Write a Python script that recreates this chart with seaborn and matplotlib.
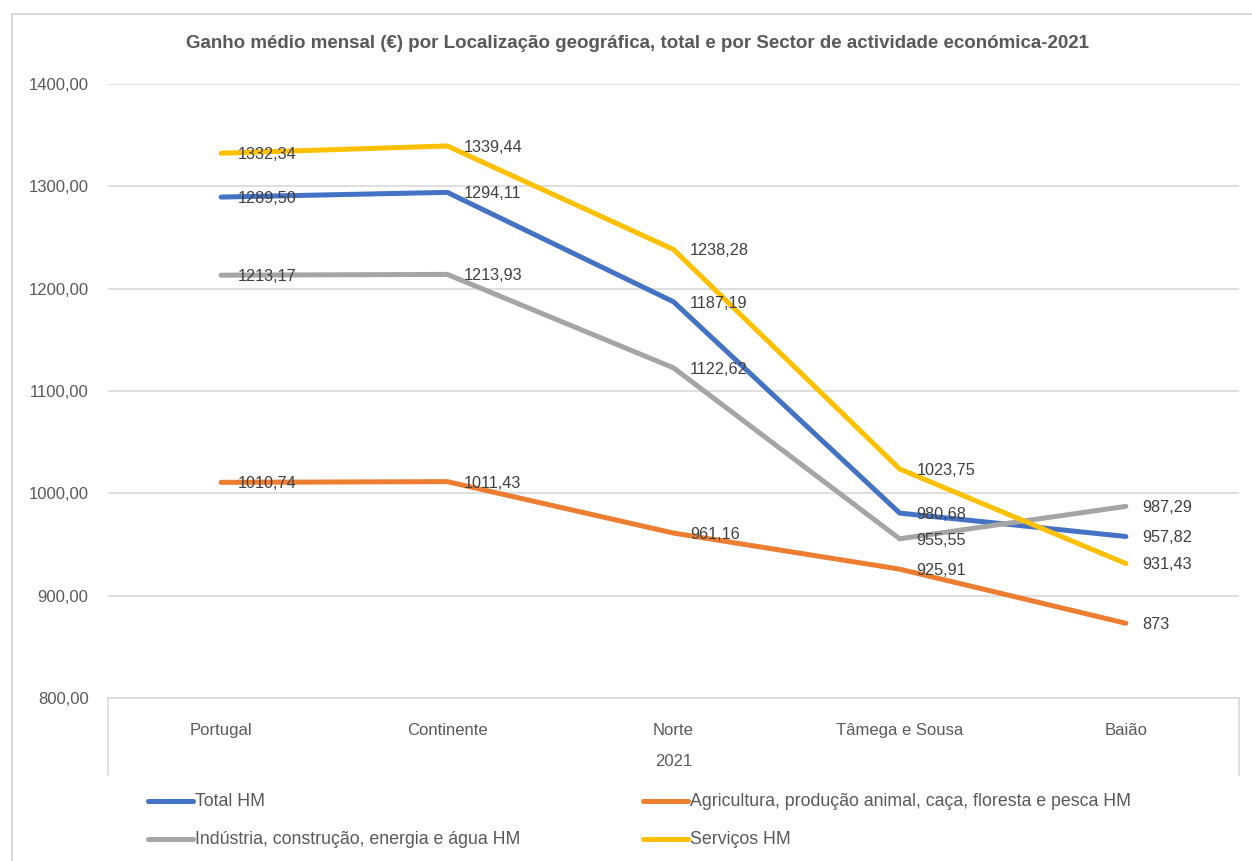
import matplotlib
matplotlib.use("Agg")
import matplotlib.pyplot as plt
import seaborn as sns
import pandas as pd
from matplotlib.lines import Line2D
from matplotlib.patches import Rectangle

categories = ["Portugal", "Continente", "Norte", "Tâmega e Sousa", "Baião"]
series_names = [
    "Total HM",
    "Agricultura, produção animal, caça, floresta e pesca HM",
    "Indústria, construção, energia e água HM",
    "Serviços HM",
]
total_hm = [1289.50, 1294.11, 1187.19, 980.68, 957.82]
agricultura_hm = [1010.74, 1011.43, 961.16, 925.91, 873.00]
industria_hm = [1213.17, 1213.93, 1122.62, 955.55, 987.29]
servicos_hm = [1332.34, 1339.44, 1238.28, 1023.75, 931.43]
label_total = ["1289,50", "1294,11", "1187,19", "980,68", "957,82"]
label_agri = ["1010,74", "1011,43", "961,16", "925,91", "873"]
label_ind = ["1213,17", "1213,93", "1122,62", "955,55", "987,29"]
label_serv = ["1332,34", "1339,44", "1238,28", "1023,75", "931,43"]
y_ticks = [800, 900, 1000, 1100, 1200, 1300, 1400]
group_label = "2021"
title = "Ganho médio mensal (€) por Localização geográfica, total e por Sector de actividade económica-2021"

colors = ["#4472C4", "#ED7D31", "#A5A5A5", "#FFC000"]
all_values = [total_hm, agricultura_hm, industria_hm, servicos_hm]
all_labels = [label_total, label_agri, label_ind, label_serv]

rows = []
for name, vals in zip(series_names, all_values):
    for c, v in zip(categories, vals):
        rows.append({"Local": c, "Série": name, "Valor": v})
df = pd.DataFrame(rows)

sns.set_theme(style="white")
plt.rcParams["font.family"] = ["Liberation Sans", "DejaVu Sans"]
txt_color = "#595959"

W, H = 1252, 861
fig = plt.figure(figsize=(W / 100, H / 100), dpi=100)
L, R, T, B = 108, 1239, 84, 698
ax = fig.add_axes([L / W, 1 - B / H, (R - L) / W, (B - T) / H])

sns.lineplot(data=df, x="Local", y="Valor", hue="Série", hue_order=series_names,
             palette=colors, linewidth=3.6, sort=False, ax=ax, legend=False,
             zorder=3)
for ln in ax.lines:
    ln.set_solid_joinstyle("miter")
    ln.set_solid_capstyle("round")

ax.set_xlim(-0.5, len(categories) - 0.5)
ax.set_ylim(800, 1400)
ax.set_yticks(y_ticks)
ax.set_yticklabels([f"{t:.2f}".replace(".", ",") for t in y_ticks],
                   fontsize=12, color=txt_color)
ax.set_xticks(range(len(categories)))
ax.set_xticklabels(categories, fontsize=12, color=txt_color)
ax.tick_params(axis="x", length=0, pad=18)
ax.tick_params(axis="y", length=0, pad=14)
ax.set_xlabel("")
ax.set_ylabel("")
ax.grid(axis="y", color="#D9D9D9", linewidth=1.2, zorder=0)
ax.grid(axis="x", visible=False)
for s in ["top", "left", "right"]:
    ax.spines[s].set_visible(False)
ax.spines["bottom"].set_color("#D9D9D9")
ax.spines["bottom"].set_linewidth(1.2)

# data labels
for vals, labs in zip(all_values, all_labels):
    for i, (v, lab) in enumerate(zip(vals, labs)):
        ax.annotate(lab, (i, v), xytext=(12, -1), textcoords="offset points",
                    ha="left", va="center", fontsize=11.7, color="#404040",
                    zorder=5)

# group label and separator lines
fig.text((L + R) / 2 / W, 1 - 761 / H, group_label, ha="center", va="center",
         fontsize=12, color=txt_color)
for xp in [L, R]:
    fig.add_artist(Line2D([xp / W, xp / W], [1 - B / H, 1 - 775 / H],
                          color="#D9D9D9", linewidth=1.2))

# title
fig.text(637 / W, 1 - 44 / H, title, ha="center", va="center", fontsize=13.5,
         fontweight="bold", color=txt_color)

# legend
leg_pos = [(148, 801), (643, 801), (148, 839), (643, 839)]
for (lx, ly), name, col in zip(leg_pos, series_names, colors):
    fig.add_artist(Line2D([lx / W, (lx + 45) / W], [1 - ly / H, 1 - ly / H],
                          color=col, linewidth=3.6, solid_capstyle="round"))
    fig.text((lx + 47) / W, 1 - ly / H, name, ha="left", va="center",
             fontsize=12.8, color=txt_color)

# chart border
fig.add_artist(Rectangle((12 / W, -0.1), 1.2, 1 - 14 / H + 0.1,
                         transform=fig.transFigure, fill=False,
                         edgecolor="#D9D9D9", linewidth=1.5))

fig.savefig("out.png", dpi=100, facecolor="white")
